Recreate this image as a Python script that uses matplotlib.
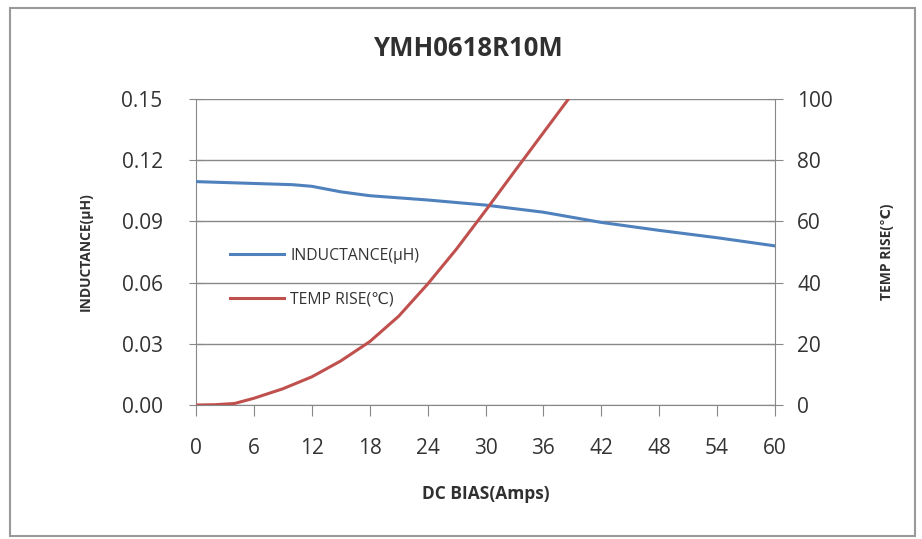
import matplotlib
matplotlib.use("Agg")
import matplotlib.pyplot as plt
from matplotlib.patches import Rectangle

plt.rcParams['font.family'] = ['Open Sans', 'DejaVu Sans']

title = "YMH0618R10M"
ind_x = [0, 6, 10, 12, 15, 18, 24, 30, 36, 42, 48, 54, 60]
ind_y = [0.1095, 0.1086, 0.1080, 0.1072, 0.1045, 0.1026, 0.1005, 0.0980, 0.0945, 0.0895, 0.0856, 0.0820, 0.0780]
temp_x = [0, 2, 4, 6, 9, 12, 15, 18, 21, 24, 27, 30, 33, 36, 39]
temp_y = [0, 0.1, 0.5, 2.2, 5.3, 9.2, 14.4, 20.7, 29.0, 39.5, 51.0, 63.5, 76.3, 89.0, 101.7]
x_ticks = [0, 6, 12, 18, 24, 30, 36, 42, 48, 54, 60]
left_ticks = [0.00, 0.03, 0.06, 0.09, 0.12, 0.15]
right_ticks = [0, 20, 40, 60, 80, 100]

txt = '#333333'
grid = '#888888'
fig = plt.figure(figsize=(9.22, 5.39), dpi=100)
fig.patches.append(Rectangle((10/922, 3/539), 905/922, 528/539, transform=fig.transFigure,
                             fill=False, edgecolor='#999999', linewidth=1.5))

ax = fig.add_axes([196/922, 134/539, 579/922, 306/539])
ax2 = ax.twinx()

l1, = ax.plot(ind_x, ind_y, color='#4F81BD', lw=2.2, label='INDUCTANCE(μH)', zorder=3)
l2, = ax2.plot(temp_x, temp_y, color='#C0504D', lw=2.2, label='TEMP RISE(℃)', clip_on=True)

ax.set_xlim(0, 60)
ax.set_ylim(0, 0.15)
ax2.set_ylim(0, 100)
ax.set_xticks(x_ticks)
ax.set_yticks(left_ticks)
ax.set_yticklabels([f"{v:.2f}" for v in left_ticks])
ax2.set_yticks(right_ticks)

ax.grid(axis='y', color=grid, lw=1)
ax.set_axisbelow(True)
for a in (ax, ax2):
    for s in a.spines.values():
        s.set_visible(False)
ax.spines['left'].set_visible(True)
ax.spines['left'].set_color(grid)
ax.spines['bottom'].set_visible(True)
ax.spines['bottom'].set_color(grid)
ax2.spines['right'].set_visible(True)
ax2.spines['right'].set_color(grid)

ax.tick_params(axis='x', direction='out', length=8, color=grid, pad=15.5, labelsize=15, labelcolor=txt)
ax.tick_params(axis='y', direction='inout', length=10, color=grid, pad=19, labelsize=15, labelcolor=txt)
ax2.tick_params(axis='y', direction='inout', length=12, color=grid, pad=10, labelsize=15, labelcolor=txt)

ax.set_xlabel('DC BIAS(Amps)', fontsize=12.5, fontweight='bold', color='#303030', labelpad=19)
ax.set_ylabel('INDUCTANCE(μH)', fontsize=10, fontweight='bold', color='#303030', labelpad=21)
ax2.set_ylabel('TEMP RISE(℃)', fontsize=10, fontweight='bold', color='#303030', labelpad=34)
fig.text(469/922, 1 - 49/539, title, ha='center', va='center', fontsize=18.5, fontweight='bold', color='#303030')

leg = ax.legend(handles=[l1, l2], loc='upper left', bbox_to_anchor=(0.035, 0.56), frameon=False,
                fontsize=11.3, handlelength=3.4, labelspacing=1.75, handletextpad=0.4)
for t in leg.get_texts():
    t.set_color(txt)

fig.savefig('out.png', dpi=100)
